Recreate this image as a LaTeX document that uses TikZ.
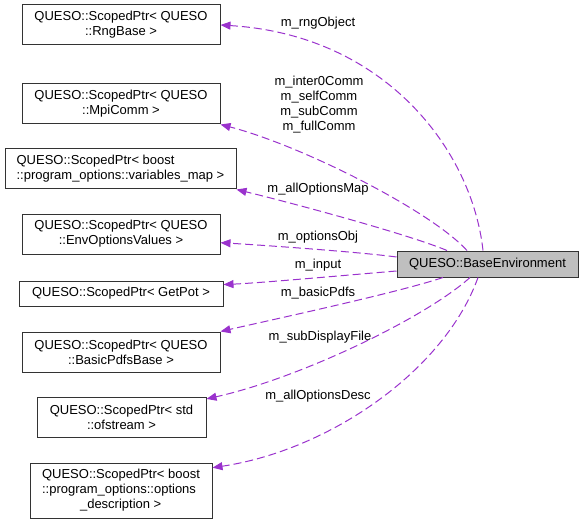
\documentclass[tikz,border=0pt]{standalone}
\usepackage{fontspec}
\setmainfont{Liberation Sans}
\usetikzlibrary{arrows.meta}
\definecolor{memberpurple}{HTML}{9A32CD}
\definecolor{basegray}{HTML}{BFBFBF}

\tikzset{
  cls/.style={draw=black!80,line width=1pt,fill=white,inner sep=0pt,align=center},
  member/.style={memberpurple,line width=1pt,dash pattern=on 8pt off 4pt,
    -{Triangle[length=10pt,width=8pt]}},
  lbl/.style={inner sep=0pt,align=center}
}

\begin{document}
\begin{tikzpicture}[x=1pt,y=-1pt,font=\fontsize{13}{15}\selectfont]
\useasboundingbox (0,0) rectangle (584,524);

\node[cls,minimum width=198,minimum height=40] (rng) at (121,25)
      {QUESO::ScopedPtr< QUESO\\::RngBase >};
\node[cls,minimum width=198,minimum height=40] (mpi) at (121,104)
      {QUESO::ScopedPtr< QUESO\\::MpiComm >};
\node[cls,minimum width=231,minimum height=40,align=left] (vmap) at (120.5,169)
      {QUESO::ScopedPtr< boost\\::program\_options::variables\_map >};
\node[cls,minimum width=198,minimum height=40] (envopt) at (121,234)
      {QUESO::ScopedPtr< QUESO\\::EnvOptionsValues >};
\node[cls,minimum width=204,minimum height=25] (getpot) at (121,293.5)
      {QUESO::ScopedPtr< GetPot >};
\node[cls,minimum width=198,minimum height=40] (pdfs) at (121,352)
      {QUESO::ScopedPtr< QUESO\\::BasicPdfsBase >};
\node[cls,minimum width=169,minimum height=40] (ofs) at (121.5,417)
      {QUESO::ScopedPtr< std\\::ofstream >};
\node[cls,minimum width=182,minimum height=55,align=left] (desc) at (121,490.5)
      {QUESO::ScopedPtr< boost\\::program\_options::options\\\hspace*{38pt}\_description >};

\node[cls,fill=basegray,minimum width=181,minimum height=26] (base) at (487.5,264)
      {QUESO::BaseEnvironment};

% members
\draw[member] ([xshift=-4.5pt]base.north) .. controls (472,150) and (385,35) .. (rng.east);
\draw[member] ([xshift=-20.5pt]base.north) .. controls (430,210) and (300,145) .. (mpi.south east);
\draw[member] ([xshift=-40.5pt]base.north) .. controls (410,235) and (300,205) .. (vmap.south east);
\draw[member] ([yshift=7pt]base.west) .. controls (360,252) and (260,245) .. (envopt.-5);
\draw[member] ([yshift=-7pt]base.west) .. controls (360,274) and (260,283) .. (getpot.5);
\draw[member] ([xshift=-44.5pt]base.south) .. controls (400,292) and (280,318) .. (pdfs.north east);
\draw[member] ([xshift=-17.5pt]base.south) .. controls (425,318) and (300,378) .. (ofs.12);
\draw[member] ([xshift=-9.5pt]base.south) .. controls (445,370) and (330,450) .. (desc.14);

\node[lbl] (lrng) at (318,23) {m\_rngObject};
\node[lbl] (lmpi) at (319,105) {m\_inter0Comm\\m\_selfComm\\m\_subComm\\m\_fullComm};
\node[lbl] (lvmap) at (318,189) {m\_allOptionsMap};
\node[lbl] (lenvopt) at (318,237) {m\_optionsObj};
\node[lbl] (lgetpot) at (318,265) {m\_input};
\node[lbl] (lpdfs) at (318,293) {m\_basicPdfs};
\node[lbl] (lofs) at (320,337) {m\_subDisplayFile};
\node[lbl] (ldesc) at (318,396) {m\_allOptionsDesc};
\end{tikzpicture}
\end{document}
